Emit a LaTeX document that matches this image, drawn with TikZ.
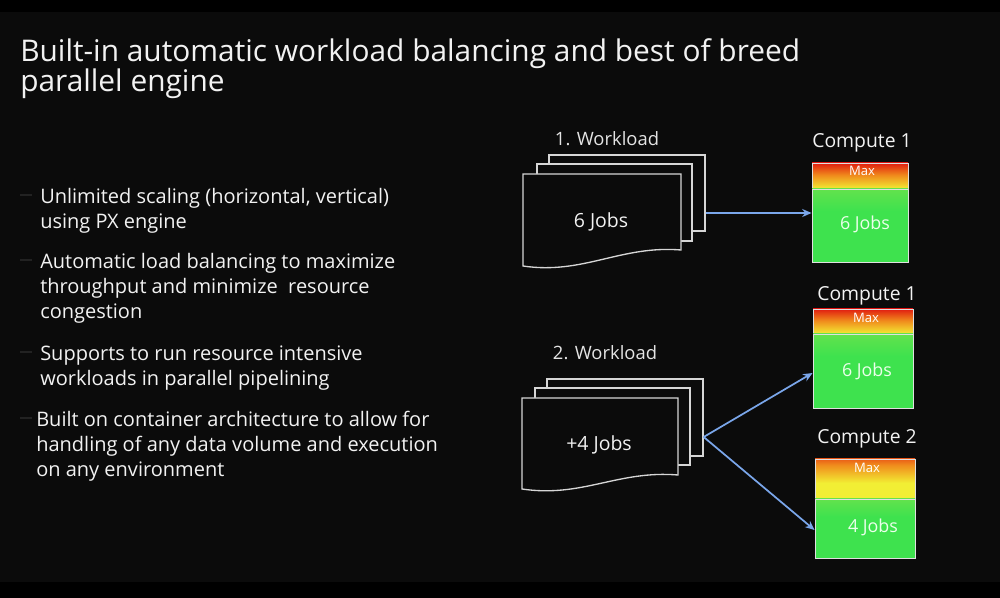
\documentclass[tikz,border=0pt]{standalone}
\usepackage{fontspec}
\setmainfont{Open Sans}
\usetikzlibrary{arrows.meta}
\definecolor{bg}{HTML}{0B0B0B}
\definecolor{txt}{HTML}{F2F2F2}
\definecolor{lbl}{HTML}{E4E4E4}
\definecolor{dash}{HTML}{222222}
\definecolor{page}{HTML}{D6D6D6}
\definecolor{arr}{HTML}{7AA6EA}
\definecolor{rd}{HTML}{E01810}
\definecolor{or}{HTML}{F08A1C}
\definecolor{yl}{HTML}{F2EE34}
\definecolor{ygr}{HTML}{C6EA3C}
\definecolor{lgr}{HTML}{A0E24A}
\definecolor{gr}{HTML}{3EE24E}
\pgfdeclareverticalshading{maxA}{100bp}{color(0bp)=(yl); color(25bp)=(yl); color(52bp)=(or); color(76bp)=(rd); color(100bp)=(rd)}
\pgfdeclareverticalshading{maxB}{100bp}{color(0bp)=(ygr); color(18bp)=(yl); color(45bp)=(yl); color(68bp)=(or); color(86bp)=(rd); color(100bp)=(rd)}
\pgfdeclareverticalshading{grn}{100bp}{color(0bp)=(gr); color(60bp)=(gr); color(100bp)=(lgr)}
\def\px{0.75pt}
\tikzset{
  titletext/.style={font=\fontsize{22.4}{22.5}\selectfont, text=txt, anchor=base west, inner sep=0},
  bullettext/.style={font=\fontsize{15}{18.75}\selectfont, text=txt, align=left, anchor=north west, inner sep=0},
  bulletdash/.style={draw=dash, line width=1.2pt},
  pagebox/.style={draw=page, fill=bg, line width=1pt},
  wltext/.style={font=\fontsize{13.8}{16}\selectfont, text=lbl, inner sep=0},
  jobtext/.style={font=\fontsize{14.6}{16}\selectfont, text=txt, inner sep=0},
  comptitle/.style={font=\fontsize{14.5}{16}\selectfont, text=txt, inner sep=0},
  maxtext/.style={font=\fontsize{9.8}{11}\selectfont, text=white, inner sep=0},
  cjobtext/.style={font=\fontsize{13.4}{14}\selectfont, text=white!92!green, inner sep=0},
  maxbox/.style={draw=white!88!black, line width=0.7pt, inner sep=0, shade, shading=#1},
  greenbox/.style={draw=white!88!black, line width=0.7pt, inner sep=0, shade, shading=grn},
  flow/.style={draw=arr, line width=1.3pt, -{Stealth[length=7pt,width=6pt]}}
}
\begin{document}
\begin{tikzpicture}[x=0.75pt,y=-0.75pt]
\useasboundingbox (0,0) rectangle (1000,598);
\fill[black] (0,0) rectangle (1000,598);
\fill[bg] (0,12) rectangle (1000,582);

% title
\node[titletext] (t1) at (20,62) {Built-in automatic workload balancing and best of breed};
\node[titletext] (t2) at (20,92) {parallel engine};

% bullets
\draw[bulletdash] (20,195) -- (32,195);
\node[bullettext] (b1) at (40,188) {Unlimited scaling (horizontal, vertical)\\using PX engine};
\draw[bulletdash] (20,260) -- (32,260);
\node[bullettext] (b2) at (40,253) {Automatic load balancing to maximize\\throughput and minimize\ \ resource\\congestion};
\draw[bulletdash] (20,352) -- (32,352);
\node[bullettext] (b3) at (40,346) {Supports to run resource intensive\\workloads in parallel pipelining};
\draw[bulletdash] (20,418) -- (32,418);
\node[bullettext] (b4) at (36,411) {Built on container architecture to allow for\\handling of any data volume and execution\\on any environment};

% workload 1
\node[wltext] (w1l) at (607,139) {1. Workload};
\node[pagebox, minimum width=156*\px, minimum height=76*\px] (w1c) at (627,193) {};
\node[pagebox, minimum width=155*\px, minimum height=77*\px] (w1b) at (614.5,202.5) {};
\draw[pagebox] (523,174) -- (681,174) -- (681,250) .. controls (621,245) and (583,275) .. (523,266) -- cycle;
\node[jobtext] (w1t) at (601,222) {6 Jobs};

% compute 1 (top)
\node[comptitle] (c1l) at (862,143) {Compute 1};
\node[maxbox=maxA, minimum width=96*\px, minimum height=26*\px] (c1m) at (860,176) {};
\node[greenbox, minimum width=96*\px, minimum height=73*\px] (c1) at (860,225.5) {};
\node[maxtext] (c1mt) at (862,171) {Max};
\node[cjobtext] (c1t) at (865,224) {6 Jobs};

\coordinate (a1s) at (w1c.east |- 0,213);
\coordinate (a1e) at (c1.west |- 0,213);
\draw[flow] (a1s) -- (a1e);

% workload 2
\node[wltext] (w2l) at (605,353) {2. Workload};
\node[pagebox, minimum width=156*\px, minimum height=77*\px] (w2c) at (625,417.5) {};
\node[pagebox, minimum width=155*\px, minimum height=77*\px] (w2b) at (612.5,426.5) {};
\draw[pagebox] (522,398) -- (678,398) -- (678,475) .. controls (618,470) and (582,498) .. (522,489) -- cycle;
\node[jobtext] (w2t) at (599,445) {+4 Jobs};

% compute 1 (second)
\node[comptitle] (c2l) at (867,296) {Compute 1};
\node[maxbox=maxA, minimum width=100*\px, minimum height=25*\px] (c2m) at (863,321.5) {};
\node[greenbox, minimum width=100*\px, minimum height=74*\px] (c2) at (863,371) {};
\node[maxtext] (c2mt) at (866,318) {Max};
\node[cjobtext] (c2t) at (867,371) {6 Jobs};

% compute 2
\node[comptitle] (c3l) at (867,439) {Compute 2};
\node[maxbox=maxB, minimum width=100*\px, minimum height=40*\px] (c3m) at (865,479) {};
\node[greenbox, minimum width=100*\px, minimum height=59*\px] (c3) at (865,528.5) {};
\node[maxtext] (c3mt) at (867,468) {Max};
\node[cjobtext] (c3t) at (873,527) {4 Jobs};

\coordinate (a2s) at (w2c.east |- 0,437);
\coordinate (a2e) at (c2.west |- 0,373);
\coordinate (a3e) at (c3.west |- 0,530);
\draw[flow] (a2s) -- (a2e);
\draw[flow] (a2s) -- (a3e);
\end{tikzpicture}
\end{document}
